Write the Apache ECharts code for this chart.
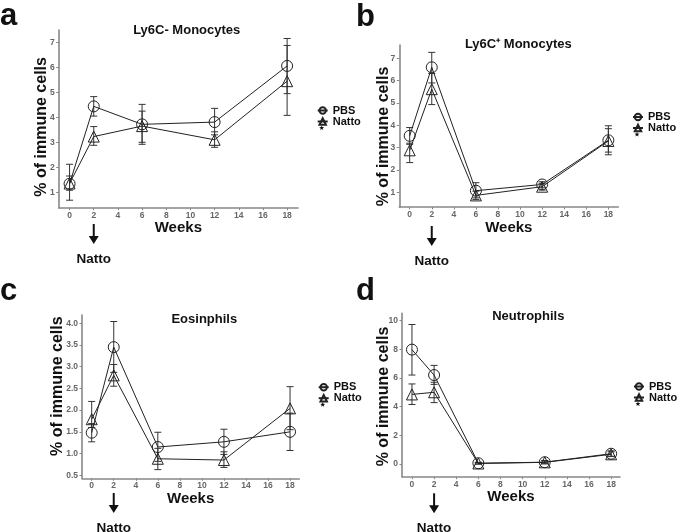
<!DOCTYPE html>
<html>
<head>
<meta charset="utf-8">
<script src="https://cdn.jsdelivr.net/npm/echarts@6/dist/echarts.min.js"></script>
<style>
html,body{margin:0;padding:0;background:#fff;}
#chart{width:677px;height:532px;}
</style>
</head>
<body>
<div id="chart"></div>
<script>
// ---- data ----
var weeks = [0, 2, 6, 12, 18];
var xTicks = [0, 2, 4, 6, 8, 10, 12, 14, 16, 18];
var nattoWeek = 2;

var titles = ['Ly6C- Monocytes', 'Ly6C\u207A Monocytes', 'Eosinphils', 'Neutrophils'];
var panelLetters = ['a', 'b', 'c', 'd'];

var yTicksA = [1, 2, 3, 4, 5, 6, 7];
var yTicksB = [1, 2, 3, 4, 5, 6, 7];
var yTicksC = [0.5, 1.0, 1.5, 2.0, 2.5, 3.0, 3.5, 4.0];
var yTicksD = [0, 2, 4, 6, 8, 10];

// Panel a: Ly6C- Monocytes
var aPBS = [1.34, 4.44, 3.72, 3.81, 6.06];
var aPBSLo = [0.68, 4.05, 2.92, 3.30, 4.95];
var aPBSHi = [2.12, 4.83, 4.52, 4.36, 7.16];
var aNatto = [1.35, 3.23, 3.65, 3.10, 5.45];
var aNattoLo = [1.08, 2.88, 3.00, 2.80, 4.08];
var aNattoHi = [1.65, 3.63, 4.25, 3.42, 6.88];

// Panel b: Ly6C+ Monocytes
var bPBS = [3.53, 6.60, 1.07, 1.35, 3.33];
var bPBSLo = [3.15, 5.90, 0.75, 1.20, 2.68];
var bPBSHi = [3.90, 7.27, 1.43, 1.47, 3.98];
var bNatto = [2.88, 5.62, 0.86, 1.25, 3.30];
var bNattoLo = [2.33, 4.93, 0.68, 1.10, 2.80];
var bNattoHi = [3.20, 6.32, 1.05, 1.40, 3.85];

// Panel c: Eosinphils
var cPBS = [1.48, 3.45, 1.15, 1.27, 1.50];
var cPBSLo = [1.27, 2.87, 0.82, 0.98, 1.07];
var cPBSHi = [1.69, 4.04, 1.49, 1.56, 1.93];
var cNatto = [1.79, 2.80, 0.88, 0.85, 2.04];
var cNattoLo = [1.60, 2.55, 0.63, 0.68, 1.55];
var cNattoHi = [2.20, 3.05, 1.12, 1.04, 2.54];

// Panel d: Neutrophils
var dPBS = [7.97, 6.20, 0.06, 0.13, 0.72];
var dPBSLo = [6.20, 5.55, 0.00, 0.02, 0.55];
var dPBSHi = [9.72, 6.87, 0.12, 0.25, 0.92];
var dNatto = [4.85, 5.00, 0.04, 0.12, 0.68];
var dNattoLo = [4.15, 4.28, 0.00, 0.02, 0.52];
var dNattoHi = [5.58, 5.70, 0.10, 0.22, 0.85];

// ---- layout ----
var FONT = '"Liberation Sans", Arial, sans-serif';
var panels = [
  { grid: {left: 58.7, top: 30, width: 239.3, height: 177.7}, x: [-0.9, 18.9], y: [0.38, 7.5], yTicks: yTicksA, yFmt: 0,
    pbs: aPBS, pbsLo: aPBSLo, pbsHi: aPBSHi, natto: aNatto, nattoLo: aNattoLo, nattoHi: aNattoHi,
    title: {x: 181.7, y: 19}, letter: {x: 0, y: 23}, yGap: 9, yPad: [0, 16, 0, 0], xGap: 11, legend: {x: 316.7, y: 105}, arrowTop: 16.3 },
  { grid: {left: 399.3, top: 45, width: 219, height: 162}, x: [-0.94, 18.9], y: [0.34, 7.6], yTicks: yTicksB, yFmt: 0,
    pbs: bPBS, pbsLo: bPBSLo, pbsHi: bPBSHi, natto: bNatto, nattoLo: bNattoLo, nattoHi: bNattoHi,
    title: {x: 513.3, y: 33}, letter: {x: 356, y: 24}, yGap: 8, yPad: [0, 21, 0, 0], xGap: 10, legend: {x: 632, y: 111.5}, arrowTop: 19 },
  { grid: {left: 82, top: 315, width: 217.3, height: 163.3}, x: [-0.88, 18.84], y: [0.43, 4.19], yTicks: yTicksC, yFmt: 1,
    pbs: cPBS, pbsLo: cPBSLo, pbsHi: cPBSHi, natto: cNatto, nattoLo: cNattoLo, nattoHi: cNattoHi,
    title: {x: 199.3, y: 308}, letter: {x: 0, y: 298}, yGap: 16, yPad: [0, 0, 0, 21], xGap: 7.5, legend: {x: 317.7, y: 381.7}, arrowTop: 14.7 },
  { grid: {left: 402, top: 313.3, width: 218, height: 163.4}, x: [-0.9, 18.8], y: [-0.88, 10.5], yTicks: yTicksD, yFmt: 0,
    pbs: dPBS, pbsLo: dPBSLo, pbsHi: dPBSHi, natto: dNatto, nattoLo: dNattoLo, nattoHi: dNattoHi,
    title: {x: 523.3, y: 305}, letter: {x: 356, y: 298}, yGap: 10.5, yPad: [0, 3, 0, 0], xGap: 9, legend: {x: 633, y: 381}, arrowTop: 16.6 }
];

var option = {
  animation: false,
  backgroundColor: '#fff',
  textStyle: {fontFamily: FONT},
  title: [], grid: [], xAxis: [], yAxis: [], series: [], legend: [], graphic: []
};

function errRender(params, api) {
  var x = api.value(0), lo = api.value(1), hi = api.value(2);
  var pHi = api.coord([x, hi]), pLo = api.coord([x, lo]);
  var cw = 3.5;
  var st = {stroke: '#333', lineWidth: 1};
  return {
    type: 'group',
    children: [
      {type: 'line', shape: {x1: pHi[0], y1: pHi[1], x2: pLo[0], y2: pLo[1]}, style: st},
      {type: 'line', shape: {x1: pHi[0] - cw, y1: pHi[1], x2: pHi[0] + cw, y2: pHi[1]}, style: st},
      {type: 'line', shape: {x1: pLo[0] - cw, y1: pLo[1], x2: pLo[0] + cw, y2: pLo[1]}, style: st}
    ]
  };
}

function starPoints(cx, cy, ro, ri) {
  var pts = [];
  for (var k = 0; k < 10; k++) {
    var r = (k % 2 === 0) ? ro : ri;
    var a = -Math.PI / 2 + k * Math.PI / 5;
    pts.push([cx + r * Math.cos(a), cy + r * Math.sin(a)]);
  }
  return pts;
}

panels.forEach(function (p, i) {
  option.grid.push(p.grid);
  option.title.push({
    text: titles[i], left: p.title.x, top: p.title.y, textAlign: 'center',
    textStyle: {fontFamily: FONT, fontWeight: 'bold', fontSize: 13, color: '#111'}
  });
  option.xAxis.push({
    type: 'value', gridIndex: i, min: p.x[0], max: p.x[1],
    name: 'Weeks', nameLocation: 'middle', nameGap: p.xGap,
    nameTextStyle: {fontFamily: FONT, fontWeight: 'bold', fontSize: 15, color: '#111'},
    splitLine: {show: false},
    axisLine: {onZero: false, lineStyle: {color: '#888', width: 1.6}},
    axisTick: {customValues: xTicks, length: 2.5, lineStyle: {color: '#888'}},
    axisLabel: {customValues: xTicks, margin: 3, fontSize: 8.5, fontWeight: 'bold', color: '#666', fontFamily: FONT}
  });
  var fmt = p.yFmt;
  option.yAxis.push({
    type: 'value', gridIndex: i, min: p.y[0], max: p.y[1],
    name: '% of immune cells', nameLocation: 'middle', nameGap: p.yGap, nameRotate: 90, nameMoveOverlap: false,
    nameTextStyle: {fontFamily: FONT, fontWeight: 'bold', fontSize: 16, color: '#111', padding: p.yPad},
    splitLine: {show: false},
    axisLine: {show: true, onZero: false, lineStyle: {color: '#888', width: 1.6}},
    axisTick: {show: true, customValues: p.yTicks, length: 2.5, lineStyle: {color: '#888'}},
    axisLabel: {customValues: p.yTicks, margin: 4, fontSize: 8.5, fontWeight: 'bold', color: '#666', fontFamily: FONT,
      formatter: function (v) { return Number(v).toFixed(fmt); }}
  });

  var groups = [
    {name: 'PBS', vals: p.pbs, lo: p.pbsLo, hi: p.pbsHi, symbol: 'circle', size: 11},
    {name: 'Natto', vals: p.natto, lo: p.nattoLo, hi: p.nattoHi, symbol: 'triangle', size: 11}
  ];
  groups.forEach(function (g) {
    option.series.push({
      type: 'custom', xAxisIndex: i, yAxisIndex: i, renderItem: errRender, silent: true, z: 3,
      data: weeks.map(function (w, k) { return [w, g.lo[k], g.hi[k]]; })
    });
  });
  groups.forEach(function (g) {
    option.series.push({
      type: 'line', name: g.name, xAxisIndex: i, yAxisIndex: i, z: 4,
      data: weeks.map(function (w, k) { return [w, g.vals[k]]; }),
      symbol: g.symbol, symbolSize: g.size, showSymbol: true,
      lineStyle: {color: '#222', width: 1},
      itemStyle: {color: 'rgba(255,255,255,0)', borderColor: '#222', borderWidth: 1},
      emphasis: {disabled: true}
    });
  });

  // arrow + "Natto" annotation under the x axis at the treatment week
  option.series.push({
    type: 'custom', xAxisIndex: i, yAxisIndex: i, silent: true, clip: false,
    data: [[nattoWeek, p.y[0]]],
    renderItem: (function (top) {
      return function (params, api) {
        var pt = api.coord([api.value(0), api.value(1)]);
        var x = pt[0], y0 = pt[1] + top, y1 = y0 + 20;
        return {
          type: 'group',
          children: [
            {type: 'line', shape: {x1: x, y1: y0, x2: x, y2: y1 - 7}, style: {stroke: '#111', lineWidth: 2}},
            {type: 'polygon', shape: {points: [[x - 5, y1 - 8], [x + 5, y1 - 8], [x, y1]]}, style: {fill: '#111'}},
            {type: 'text', x: x, y: y0 + 35, style: {text: 'Natto', fontFamily: FONT, fontWeight: 'bold', fontSize: 13.5,
              fill: '#111', align: 'center', verticalAlign: 'middle'}}
          ]
        };
      };
    })(p.arrowTop)
  });

  option.legend.push({
    left: p.legend.x, top: p.legend.y, orient: 'vertical', itemGap: 0,
    itemWidth: 10, itemHeight: 8, padding: 0, selectedMode: false,
    data: ['PBS', 'Natto'],
    textStyle: {fontFamily: FONT, fontWeight: 'bold', fontSize: 11, color: '#111', lineHeight: 10}
  });
  option.graphic.push({
    type: 'polygon', silent: true,
    shape: {points: starPoints(p.legend.x + 5, p.legend.y + 23, 2.6, 1.1)},
    style: {fill: '#111'}
  });
  option.graphic.push({
    type: 'text', left: p.letter.x, top: p.letter.y - 22,
    style: {text: panelLetters[i], fontFamily: FONT, fontWeight: 'bold', fontSize: 31, fill: '#111'}
  });
});

var chart = echarts.init(document.getElementById('chart'), null, {renderer: 'canvas'});
chart.setOption(option);
</script>
</body>
</html>
